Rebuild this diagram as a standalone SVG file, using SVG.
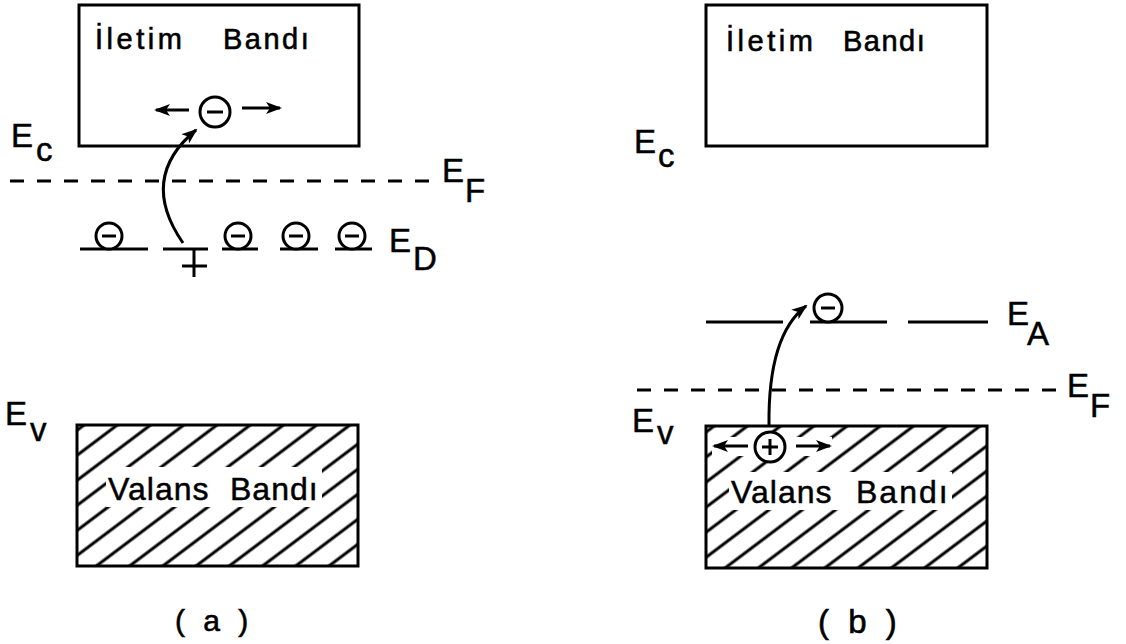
<svg xmlns="http://www.w3.org/2000/svg" width="1126" height="644" viewBox="0 0 1126 644">
<style>
  .band { fill: #fff; stroke: #000; stroke-width: 3; }
  .hatched { fill: url(#hatch); stroke: #000; stroke-width: 3; }
  .ttl { font-family: "Liberation Sans", Arial, sans-serif; font-size: 29px; fill: #000; stroke: #000; stroke-width: 0.6; letter-spacing: 3.5px; }
  .vb { font-family: "Liberation Sans", Arial, sans-serif; font-size: 32px; fill: #000; stroke: #000; stroke-width: 0.5; letter-spacing: 1px; }
  .lbl { font-family: "Liberation Sans", Arial, sans-serif; font-size: 33px; fill: #000; stroke: #000; stroke-width: 0.5; }
  .cap { font-family: "Liberation Sans", Arial, sans-serif; font-size: 30px; fill: #000; stroke: #000; stroke-width: 0.6; letter-spacing: 5px; }
  .lvl { stroke: #000; stroke-width: 3; fill: none; }
  .fermi { stroke: #000; stroke-width: 3; stroke-dasharray: 14 13; fill: none; }
  .carrier { fill: #fff; stroke: #000; stroke-width: 3; }
  .sign { stroke: #000; stroke-width: 3; fill: none; }
  .arr { stroke: #000; stroke-width: 3; fill: none; marker-end: url(#head); }
  .mask { fill: #fff; stroke: none; }
</style>
<defs>
  <pattern id="hatch" patternUnits="userSpaceOnUse" width="40" height="20" patternTransform="rotate(-37)">
    <rect width="40" height="20" fill="#fff"/>
    <line x1="0" y1="10" x2="40" y2="10" stroke="#000" stroke-width="3"/>
  </pattern>
  <marker id="head" markerUnits="userSpaceOnUse" markerWidth="16" markerHeight="12" refX="14" refY="6" orient="auto">
    <path d="M0,0 L16,6 L0,12 L4,6 Z" fill="#000"/>
  </marker>
</defs>

<!-- Panel (a) -->
<g id="conduction-band-a">
  <rect class="band" x="79" y="5" width="280" height="141"/>
  <text class="ttl" x="95" y="49">İletim</text>
  <text class="ttl" x="223" y="49" style="letter-spacing:2.5px">Bandı</text>
</g>
<g id="electron-a">
  <circle class="carrier" cx="215" cy="112" r="15"/>
  <line class="sign" x1="207" y1="112" x2="223" y2="112"/>
</g>
<g id="label-Ec-a">
  <text class="lbl" x="11" y="147">E</text>
  <text class="lbl" x="36" y="161">c</text>
</g>
<g id="fermi-level-a">
  <line class="fermi" x1="10" y1="181" x2="437" y2="181"/>
  <text class="lbl" x="442" y="182">E</text>
  <text class="lbl" x="465" y="202">F</text>
</g>
<g id="donor-level-a">
  <line class="lvl" x1="80" y1="249" x2="148" y2="249"/>
  <line class="lvl" x1="163" y1="249" x2="208" y2="249"/>
  <line class="lvl" x1="222" y1="249" x2="258" y2="249"/>
  <line class="lvl" x1="280" y1="249" x2="318" y2="249"/>
  <line class="lvl" x1="335" y1="249" x2="372" y2="249"/>
  <circle class="carrier" cx="109" cy="236" r="13"/>
  <line class="sign" x1="102" y1="236" x2="116" y2="236"/>
  <circle class="carrier" cx="238" cy="236" r="13"/>
  <line class="sign" x1="231" y1="236" x2="245" y2="236"/>
  <circle class="carrier" cx="296" cy="236" r="13"/>
  <line class="sign" x1="289" y1="236" x2="303" y2="236"/>
  <circle class="carrier" cx="352" cy="236" r="13"/>
  <line class="sign" x1="345" y1="236" x2="359" y2="236"/>
  <line class="sign" x1="194" y1="250" x2="194" y2="277"/>
  <line class="sign" x1="182" y1="266" x2="207" y2="266"/>
  <text class="lbl" x="389" y="252">E</text>
  <text class="lbl" x="413" y="270">D</text>
</g>
<g id="label-Ev-a">
  <text class="lbl" x="5" y="425">E</text>
  <text class="lbl" x="30" y="441">v</text>
</g>
<g id="valence-band-a">
  <rect class="hatched" x="77" y="425" width="281" height="141"/>
  <rect class="mask" x="106" y="467" width="216" height="40"/>
  <text class="vb" x="108" y="500">Valans</text>
  <text class="vb" x="230" y="500">Bandı</text>
</g>
<g id="caption-a">
  <text class="cap" x="175" y="631">( a )</text>
</g>

<!-- Panel (b) -->
<g id="conduction-band-b">
  <rect class="band" x="706" y="5" width="281" height="141"/>
  <text class="ttl" x="726" y="51">İletim</text>
  <text class="ttl" x="843" y="51" style="letter-spacing:1.5px">Bandı</text>
</g>
<g id="label-Ec-b">
  <text class="lbl" x="634" y="153">E</text>
  <text class="lbl" x="658" y="167">c</text>
</g>
<g id="acceptor-level-b">
  <line class="lvl" x1="706" y1="322" x2="783" y2="322"/>
  <line class="lvl" x1="810" y1="322" x2="887" y2="322"/>
  <line class="lvl" x1="908" y1="322" x2="988" y2="322"/>
  <circle class="carrier" cx="828" cy="308" r="14"/>
  <line class="sign" x1="821" y1="308" x2="835" y2="308"/>
  <text class="lbl" x="1007" y="325">E</text>
  <text class="lbl" x="1027" y="345">A</text>
</g>
<g id="fermi-level-b">
  <line class="fermi" x1="637" y1="390" x2="1057" y2="390"/>
  <text class="lbl" x="1067" y="397">E</text>
  <text class="lbl" x="1090" y="417">F</text>
</g>
<g id="label-Ev-b">
  <text class="lbl" x="632" y="432">E</text>
  <text class="lbl" x="657" y="444">v</text>
</g>
<g id="valence-band-b">
  <rect class="hatched" x="706" y="426" width="281" height="142"/>
  <rect class="mask" x="729" y="472" width="223" height="38"/>
  <rect class="mask" x="712" y="437" width="120" height="19"/>
  <text class="vb" x="731" y="503">Valans</text>
  <text class="vb" x="856" y="503" style="letter-spacing:2px">Bandı</text>
</g>
<g id="hole-b">
  <circle class="carrier" cx="770" cy="447" r="15"/>
  <line class="sign" x1="762" y1="447" x2="778" y2="447"/>
  <line class="sign" x1="770" y1="439" x2="770" y2="455"/>
</g>
<g id="caption-b">
  <text class="cap" x="818" y="633" style="font-size:33px">( b )</text>
</g>

<!-- Connectors -->
<g id="connectors">
  <path class="arr" d="M183,243 Q138,178 196,130"/>
  <line class="arr" x1="189" y1="110" x2="156" y2="110"/>
  <line class="arr" x1="242" y1="108" x2="280" y2="108"/>
  <path class="arr" d="M769,425 Q768,335 806,306"/>
  <line class="arr" x1="748" y1="446" x2="714" y2="446"/>
  <line class="arr" x1="796" y1="446" x2="830" y2="446"/>
</g>
</svg>
